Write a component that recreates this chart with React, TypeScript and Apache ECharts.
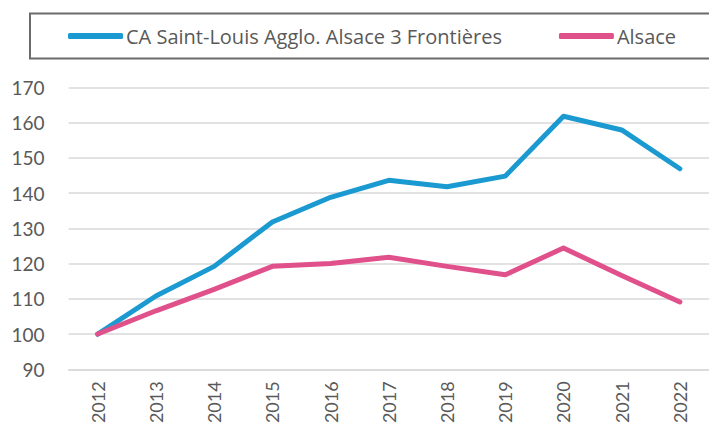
import React, { useEffect, useRef } from "react";
import * as echarts from "echarts";

const years = ["2012", "2013", "2014", "2015", "2016", "2017", "2018", "2019", "2020", "2021", "2022"];
const saintLouis = [100, 110.8, 119.2, 131.8, 138.8, 143.6, 141.8, 144.8, 161.8, 157.9, 146.9];
const alsace = [100, 106.6, 112.7, 119.2, 120.0, 121.8, 119.2, 116.8, 124.4, 116.6, 109.1];
const seriesNames = ["CA Saint-Louis Agglo. Alsace 3 Frontières", "Alsace"];

export default function App() {
  const ref = useRef<HTMLDivElement>(null);
  useEffect(() => {
    const chart = echarts.init(ref.current!, null, { renderer: "svg" });
    const font = "Lato, 'Open Sans', sans-serif";
    const legendFont = "'Open Sans', Lato, sans-serif";
    chart.setOption({
      animation: false,
      textStyle: { fontFamily: font },
      graphic: [
        {
          type: "rect",
          shape: { x: 30, y: 13.5, width: 700, height: 45 },
          style: { fill: "#fff", stroke: "#6b6b6b", lineWidth: 2 },
          z: -1,
        },
      ],
      legend: {
        left: 63,
        top: 21,
        icon: "roundRect",
        itemWidth: 55,
        itemHeight: 6,
        itemGap: 57,
        textStyle: { fontSize: 20, color: "#595959", fontFamily: legendFont, padding: [0, 0, 0, -2] },
        data: seriesNames,
      },
      grid: { left: 68.6, top: 87.3, width: 652.7, height: 282, containLabel: false },
      xAxis: {
        type: "category",
        data: years,
        boundaryGap: true,
        axisLine: { show: true, lineStyle: { color: "#d9d9d9", width: 1.5 } },
        axisTick: { show: false },
        axisLabel: { rotate: 90, fontSize: 18, color: "#595959", margin: 12, fontFamily: font },
      },
      yAxis: {
        type: "value",
        min: 90,
        max: 170,
        interval: 10,
        axisLine: { show: false },
        axisTick: { show: false },
        splitLine: { lineStyle: { color: "#d9d9d9", width: 1.5 } },
        axisLabel: { fontSize: 19, color: "#595959", margin: 24, fontFamily: font },
      },
      series: [
        {
          name: seriesNames[0],
          type: "line",
          data: saintLouis,
          symbol: "none",
          lineStyle: { color: "#1a9ad0", width: 5, cap: "round", join: "round" },
          itemStyle: { color: "#1a9ad0" },
        },
        {
          name: seriesNames[1],
          type: "line",
          data: alsace,
          symbol: "none",
          lineStyle: { color: "#e0508a", width: 5, cap: "round", join: "round" },
          itemStyle: { color: "#e0508a" },
        },
      ],
    });
    return () => chart.dispose();
  }, []);
  return <div ref={ref} style={{ width: 709, height: 434, position: "absolute", left: 0, top: 0 }} />;
}
